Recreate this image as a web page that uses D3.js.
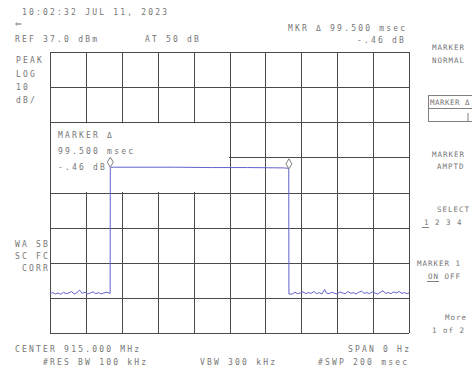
<!DOCTYPE html>
<html>
<head>
<meta charset="utf-8">
<script src="https://cdn.jsdelivr.net/npm/d3@7"></script>
<style>
  body { margin: 0; background: #fff; }
  text { font-family: "DejaVu Sans Mono", monospace; font-size: 8px; letter-spacing: 2.2px; fill: #767676; }
  text.menu { font-size: 7.5px; letter-spacing: 1px; }
  text.boxed { letter-spacing: 0.5px; }
</style>
</head>
<body>
<div id="chart"></div>
<script>
var svgWidth = 472;
var svgHeight = 370;
var margin = { top: 52, right: 63, bottom: 37, left: 50 };
var width = svgWidth - margin.left - margin.right;
var height = svgHeight - margin.top - margin.bottom;

// zero span sweep: time (msec) vs level (dBm)
var xTicks = [0, 20, 40, 60, 80, 100, 120, 140, 160, 180, 200];
var yTicks = [37, 27, 17, 7, -3, -13, -23, -33, -43];

var traceTime = [0, 1.5, 3, 4.5, 6, 7.5, 9, 10.5, 12, 13.5, 15, 16.5, 18, 19.5, 21, 22.5, 24, 25.5, 27, 28.5, 30, 31.5, 33.5,
  33.6, 36, 50, 70, 90, 110, 130, 133.0,
  133.1, 135, 136.5, 138, 139.5, 141, 142.5, 144, 145.5, 147, 148.5, 150, 151.5, 153, 154, 155.5, 157, 158.5, 160,
  161.5, 163, 164.5, 166, 167.5, 169, 170.5, 172, 173.5, 175, 176.5, 178, 179.5, 181, 182.5, 184, 185.5, 187, 188.5,
  190, 191.5, 193, 194.5, 196, 197.5, 199, 200];
var traceLevel = [-31.8, -31.5, -31.9, -31.6, -32.0, -31.4, -31.8, -31.6, -31.2, -31.9, -31.5, -30.8, -31.7, -31.4, -31.9, -31.6, -31.3, -31.8, -31.5, -31.9, -31.6, -31.4, -31.7,
  4.2, 4.2, 4.2, 4.2, 4.1, 4.1, 4.0, 3.9,
  -31.9, -31.9, -31.4, -31.8, -31.6, -31.3, -31.8, -31.5, -31.7, -31.2, -31.8, -31.5, -31.9, -30.6, -31.6, -31.8, -31.4, -31.7, -31.9,
  -31.3, -31.6, -31.8, -31.2, -31.7, -31.5, -31.9, -31.4, -31.1, -31.7, -31.5, -31.8, -31.3, -31.6, -31.9, -31.4, -31.0, -31.7, -31.5,
  -31.8, -31.3, -31.6, -31.2, -31.7, -31.5, -31.8, -31.6];

var markerTime = [33.6, 133.1];
var markerLevel = [4.2, 3.74];

var topLines = [
  { t: "10:02:32 JUL 11, 2023", x: 22, y: 15 },
  { t: "REF 37.0 dBm", x: 15, y: 42 },
  { t: "AT 50 dB", x: 145, y: 42 },
  { t: "MKR \u0394 99.500 msec", x: 288, y: 31 },
  { t: "-.46 dB", x: 357, y: 43 }
];
var leftLines = [
  { t: "PEAK", x: 16, y: 63 }, { t: "LOG", x: 16, y: 77 }, { t: "10", x: 16, y: 90 }, { t: "dB/", x: 16, y: 103 },
  { t: "WA SB", x: 15, y: 247 }, { t: "SC FC", x: 15, y: 259 }, { t: "CORR", x: 22, y: 271 }
];
var menuLines = [
  { t: "MARKER", x: 432, y: 50 }, { t: "NORMAL", x: 432, y: 63 },
  { t: "MARKER", x: 432, y: 157 }, { t: "AMPTD", x: 437, y: 169 },
  { t: "SELECT", x: 437, y: 212 }, { t: "1 2 3 4", x: 424, y: 225 },
  { t: "MARKER 1", x: 417, y: 266 }, { t: "ON OFF", x: 428, y: 279 },
  { t: "More", x: 445, y: 320 }, { t: "1 of 2", x: 432, y: 333 }
];
var boxedKey = "MARKER \u0394";
var bottomLines = [
  { t: "CENTER 915.000 MHz", x: 15, y: 352 }, { t: "SPAN 0 Hz", x: 348, y: 352 },
  { t: "#RES BW 100 kHz", x: 43, y: 365 }, { t: "VBW 300 kHz", x: 200, y: 365 }, { t: "#SWP 200 msec", x: 318, y: 365 }
];
var markerNote = ["MARKER \u0394", "99.500 msec", "-.46 dB"];

var svg = d3.select("#chart")
  .append("svg")
  .attr("width", svgWidth)
  .attr("height", svgHeight);
var chartGroup = svg.append("g")
  .attr("transform", `translate(${margin.left}, ${margin.top})`);

var x = d3.scaleLinear().domain([0, 200]).range([0, width]);
var y = d3.scaleLinear().domain([-43, 37]).range([height, 0]);

// grid
chartGroup.append("g")
  .attr("transform", `translate(0, ${height})`)
  .call(d3.axisBottom(x).tickValues(xTicks).tickSize(height).tickSizeOuter(0).tickFormat(""))
  .call(g => g.select(".domain").remove())
  .call(g => g.selectAll(".tick line").attr("y1", 0).attr("y2", -height));
chartGroup.append("g")
  .call(d3.axisLeft(y).tickValues(yTicks).tickSize(-width).tickSizeOuter(0).tickFormat(""))
  .call(g => g.select(".domain").remove());
chartGroup.selectAll(".tick line").attr("stroke", "#4a4a4a").attr("stroke-width", 1).attr("shape-rendering", "crispEdges");

// blank area behind marker readout
chartGroup.append("rect")
  .attr("x", x(0) + 1)
  .attr("y", y(17) + 1)
  .attr("width", x(100) - x(0) - 1.5)
  .attr("height", y(-3) - y(17) - 1.5)
  .attr("fill", "#fff");

var note = chartGroup.append("g");
markerNote.forEach(function(s, i) {
  note.append("text").attr("x", 8).attr("y", y(17) + 16 + i * 16).text(s);
});

// trace
var pts = traceTime.map((t, i) => [t, traceLevel[i]]);
chartGroup.append("path")
  .datum(pts)
  .attr("fill", "none")
  .attr("stroke", "#6262cc")
  .attr("stroke-width", 1)
  .attr("d", d3.line().x(d => x(d[0])).y(d => y(d[1])));

// markers
markerTime.forEach(function(t, i) {
  var mx = x(t), my = y(markerLevel[i]);
  chartGroup.append("path")
    .attr("d", `M${mx},${my - 10} L${mx + 3},${my - 5} L${mx},${my} L${mx - 3},${my - 5} Z`)
    .attr("fill", "#fff")
    .attr("stroke", "#808080")
    .attr("stroke-width", 1);
});

// texts
topLines.concat(leftLines, bottomLines).forEach(function(d) {
  svg.append("text").attr("x", d.x).attr("y", d.y).text(d.t);
});
menuLines.forEach(function(d) {
  svg.append("text").attr("class", "menu").attr("x", d.x).attr("y", d.y).text(d.t);
});
svg.append("text").attr("class", "menu boxed").attr("x", 430).attr("y", 105).text(boxedKey);
svg.append("text").attr("x", 15).attr("y", 27)
  .style("font-size", "11px").style("letter-spacing", "0px").text("\u21d0");

// softkey box + underlines
svg.append("rect").attr("x", 428.5).attr("y", 95.5).attr("width", 50).attr("height", 26)
  .attr("fill", "none").attr("stroke", "#808080");
svg.append("line").attr("x1", 428.5).attr("x2", 472).attr("y1", 108.5).attr("y2", 108.5).attr("stroke", "#808080");
svg.append("line").attr("x1", 468).attr("x2", 468).attr("y1", 113).attr("y2", 121).attr("stroke", "#808080");
svg.append("line").attr("x1", 422).attr("x2", 429).attr("y1", 227.5).attr("y2", 227.5).attr("stroke", "#808080");
svg.append("line").attr("x1", 427).attr("x2", 439).attr("y1", 281.5).attr("y2", 281.5).attr("stroke", "#808080");
</script>
</body>
</html>
